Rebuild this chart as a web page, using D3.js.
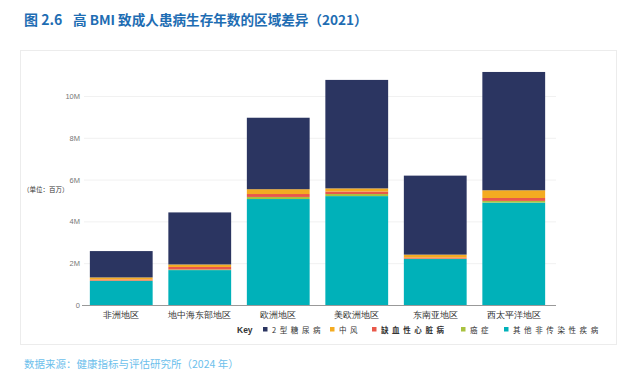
<!DOCTYPE html>
<html>
<head>
<meta charset="utf-8">
<script src="https://cdn.jsdelivr.net/npm/d3@7"></script>
<style>
  body { margin: 0; background: #fff; }
  svg { display: block; font-family: "Noto Sans CJK SC", "Noto Sans", sans-serif; }
</style>
</head>
<body>
<div id="chart"></div>
<script>
// data: 百万 (millions)
const regions = ['非洲地区', '地中海东部地区', '欧洲地区', '美欧洲地区', '东南亚地区', '西太平洋地区'];
const seriesNames = ['其他非传染性疾病', '癌症', '缺血性心脏病', '中风', '2 型糖尿病'];
const otherNcd   = [1.15, 1.67, 5.07, 5.21, 2.20, 4.90];
const cancer     = [0.02, 0.03, 0.10, 0.10, 0.02, 0.08];
const ihd        = [0.05, 0.12, 0.14, 0.12, 0.05, 0.14];
const stroke     = [0.10, 0.12, 0.23, 0.15, 0.14, 0.37];
const diabetes   = [1.26, 2.49, 3.42, 5.19, 3.78, 5.66];
const yTicks = [0, 2, 4, 6, 8, 10];
const yTickLabels = ['0', '2M', '4M', '6M', '8M', '10M'];
const legendNames = ['2型糖尿病', '中风', '缺血性心脏病', '癌症', '其他非传染性疾病'];

var colors = {
  '2 型糖尿病': '#2b3561',
  '中风': '#f4ab21',
  '缺血性心脏病': '#e9584a',
  '癌症': '#a9c23f',
  '其他非传染性疾病': '#00b1b9'
};
var legendColors = ['#2b3561', '#f4ab21', '#e9584a', '#a9c23f', '#00b1b9'];

var W = 640, H = 387;
var svg = d3.select('#chart').append('svg').attr('width', W).attr('height', H);

// 表格数据
var table = regions.map(function(r, i) {
  return { region: r, '其他非传染性疾病': otherNcd[i], '癌症': cancer[i],
           '缺血性心脏病': ihd[i], '中风': stroke[i], '2 型糖尿病': diabetes[i] };
});
var stack = d3.stack().keys(seriesNames)(table);

// title
svg.append('text').attr('x', 24).attr('y', 25)
  .attr('fill', '#1e6db3').attr('font-size', 14).attr('font-weight', 'bold')
  .text('图 2.6');
svg.append('text').attr('x', 73).attr('y', 25)
  .attr('fill', '#1e6db3').attr('font-size', 13.6).attr('font-weight', 'bold')
  .text('高 BMI 致成人患病生存年数的区域差异（2021）');

// panel
svg.append('rect').attr('x', 20.5).attr('y', 50.5).attr('width', 596).attr('height', 294)
  .attr('fill', '#fff').attr('stroke', '#ececec').attr('stroke-width', 1);

var x = d3.scaleBand().domain(regions).range([82, 553]).paddingInner(0.2).paddingOuter(0.1);
var y = d3.scaleLinear().domain([0, 10]).range([305, 96]);

// grid
svg.append('g').selectAll('line').data(yTicks.slice(1)).join('line')
  .attr('x1', 84).attr('x2', 556)
  .attr('y1', function(d) { return y(d) + 0.5; }).attr('y2', function(d) { return y(d) + 0.5; })
  .attr('stroke', '#f1f1f1');

// y axis
var yAxis = d3.axisLeft(y).tickValues(yTicks).tickSize(0).tickPadding(4)
  .tickFormat(function(d, i) { return yTickLabels[i]; });
var gy = svg.append('g').attr('transform', 'translate(84,0)').call(yAxis);
gy.select('.domain').remove();
gy.selectAll('text').attr('fill', '#777').attr('font-size', 7.5)
  .attr('font-family', '"Liberation Sans", Arial, sans-serif');

svg.append('text').attr('x', 23).attr('y', 192).attr('font-size', 6.5).attr('fill', '#333')
  .text('（单位：百万）');

// bars
svg.append('g').selectAll('g').data(stack).join('g')
  .attr('fill', function(s) { return colors[s.key]; })
  .selectAll('rect').data(function(s) { return s; }).join('rect')
  .attr('x', function(d) { return x(d.data.region); })
  .attr('width', x.bandwidth())
  .attr('y', function(d) { return y(d[1]); })
  .attr('height', function(d) { return y(d[0]) - y(d[1]); });

// baseline
svg.append('line').attr('x1', 82).attr('x2', 556).attr('y1', 305.5).attr('y2', 305.5)
  .attr('stroke', '#999').attr('stroke-width', 1);

// x axis labels
var xAxis = d3.axisBottom(x).tickSize(0).tickPadding(6);
var gx = svg.append('g').attr('transform', 'translate(0,306)').call(xAxis);
gx.select('.domain').remove();
gx.selectAll('text').attr('fill', '#333').attr('font-size', 8.5);

// legend
svg.append('text').attr('x', 237).attr('y', 333).attr('font-size', 8.5)
  .attr('font-weight', 'bold').attr('fill', '#333')
  .attr('font-family', '"Liberation Sans", Arial, sans-serif').text('Key');
var legX = [263, 330, 372, 461, 504];
var leg = svg.append('g').selectAll('g').data(legendNames).join('g')
  .attr('transform', function(d, i) { return 'translate(' + legX[i] + ',0)'; });
leg.append('rect').attr('x', 0).attr('y', 327).attr('width', 4.5).attr('height', 4.5)
  .attr('fill', function(d, i) { return legendColors[i]; });
leg.append('text').attr('x', 9).attr('y', 333).attr('font-size', 7.5).attr('fill', '#333')
  .attr('letter-spacing', 3.6)
  .attr('font-weight', function(d, i) { return i === 2 ? 'bold' : 'normal'; })
  .text(function(d) { return d; });

// source
svg.append('text').attr('x', 24).attr('y', 368).attr('font-size', 10.5).attr('fill', '#6cc0ec')
  .text('数据来源：健康指标与评估研究所（2024 年）');
</script>
</body>
</html>
